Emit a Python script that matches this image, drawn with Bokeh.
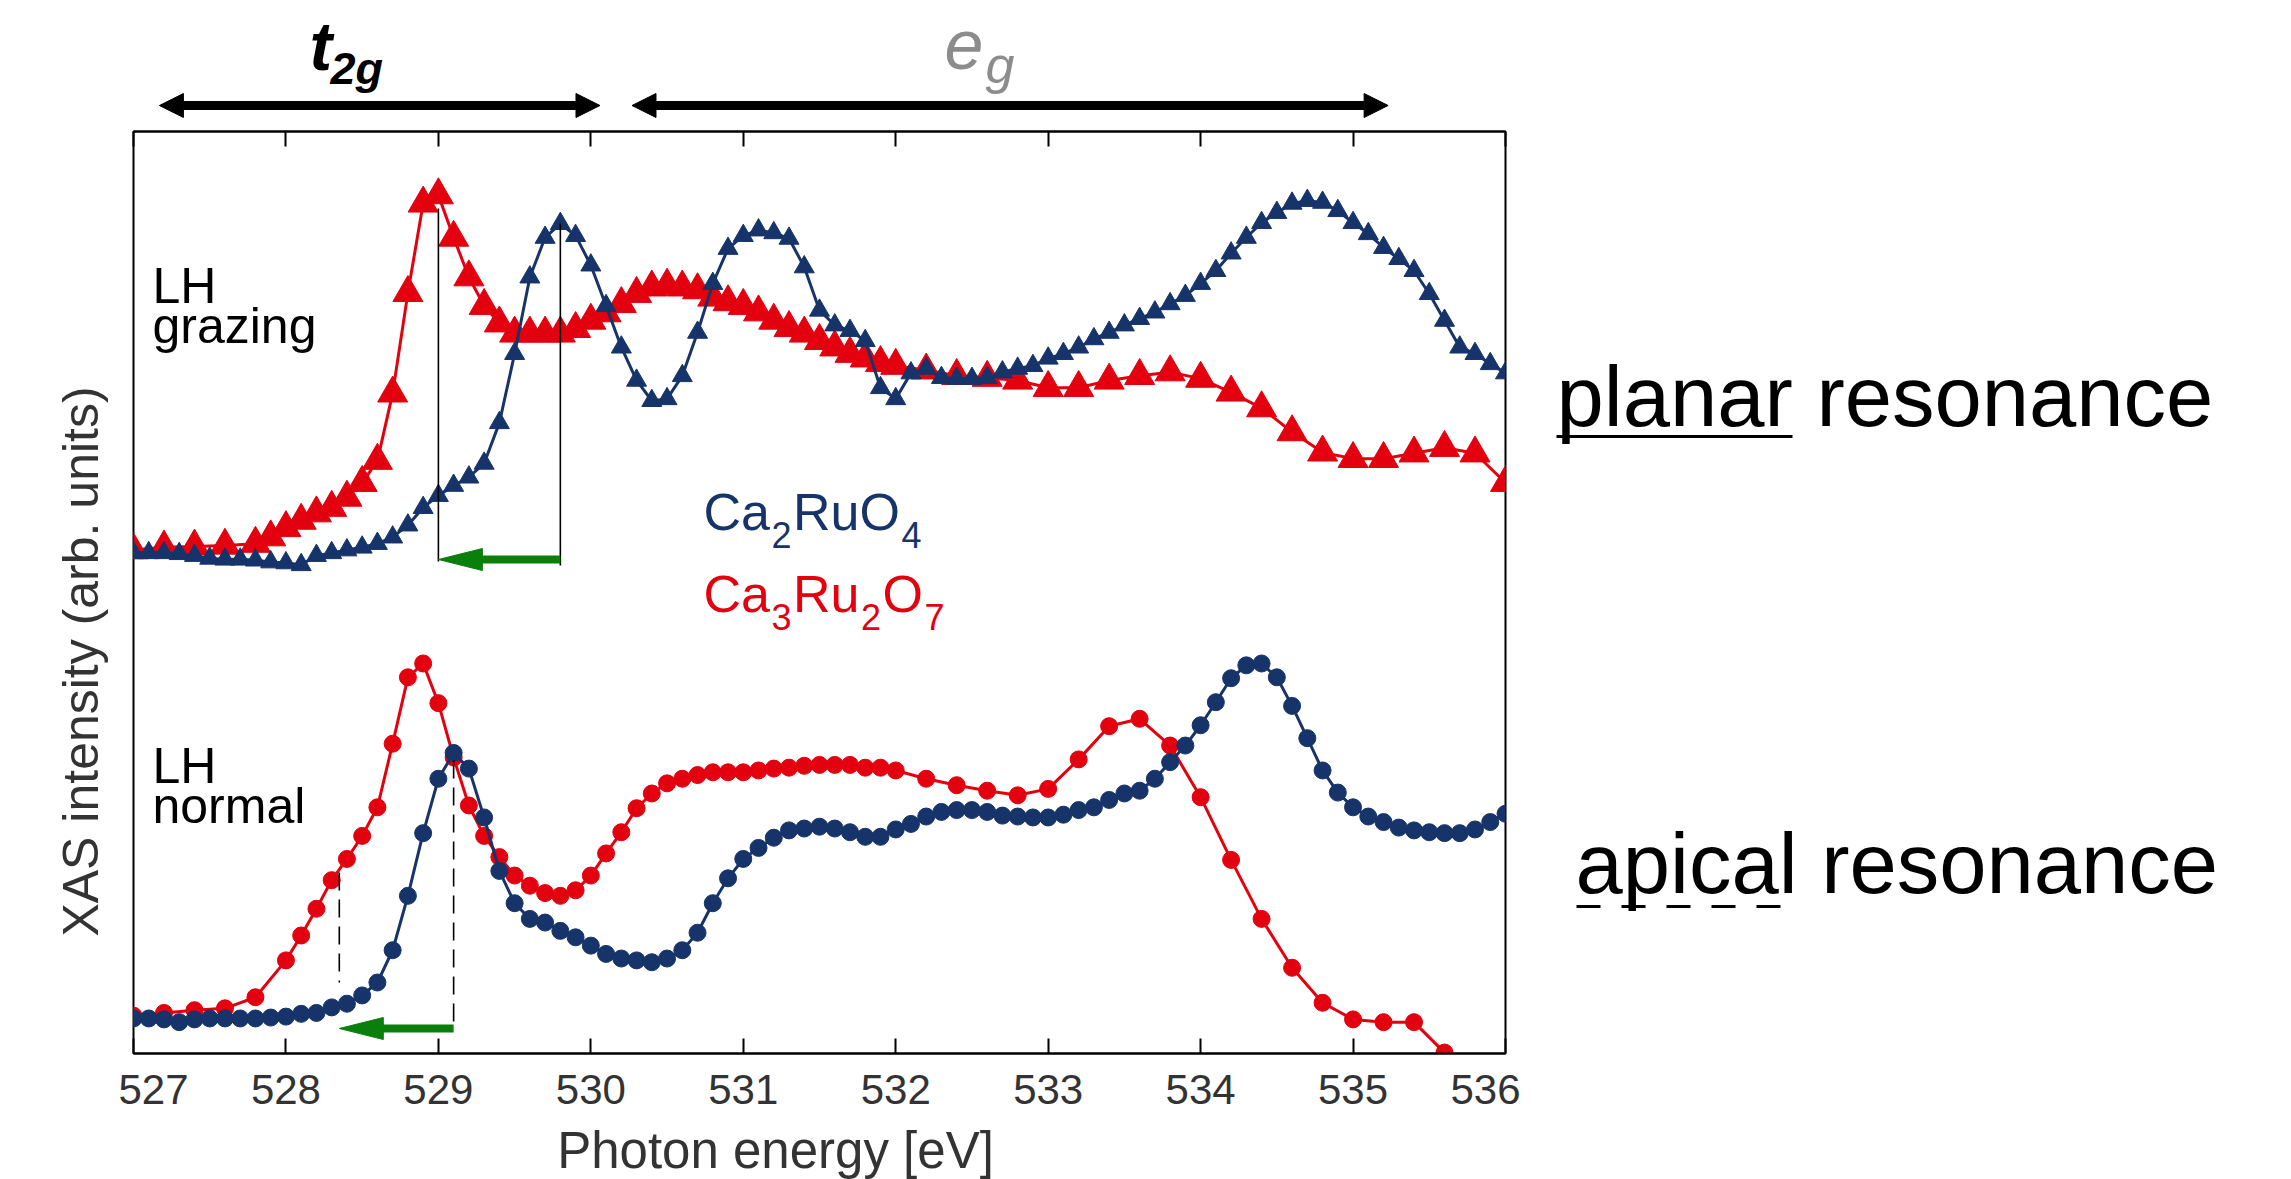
from math import pi
from bokeh.plotting import figure
from bokeh.models import (Range1d, LinearAxis, FixedTicker, Arrow, NormalHead,
                          CustomJSTickFormatter)
from bokeh.layouts import gridplot
from bokeh.embed import file_html
from bokeh.resources import INLINE
from bokeh.core.properties import value

# ---------------- data ----------------
tick_values = [527, 528, 529, 530, 531, 532, 533, 534, 535, 536]
tick_labels = ["527", "528", "529", "530", "531", "532", "533", "534", "535", "536"]

energy_blue = [527.0, 527.1, 527.2, 527.3, 527.4, 527.5, 527.6, 527.7, 527.8, 527.9,
               528.0, 528.1, 528.2, 528.3, 528.4, 528.5, 528.6, 528.7, 528.8, 528.9,
               529.0, 529.1, 529.2, 529.3, 529.4, 529.5, 529.6, 529.7, 529.8, 529.9,
               530.0, 530.1, 530.2, 530.3, 530.4, 530.5, 530.6, 530.7, 530.8, 530.9,
               531.0, 531.1, 531.2, 531.3, 531.4, 531.5, 531.6, 531.7, 531.8, 531.9,
               532.0, 532.1, 532.2, 532.3, 532.4, 532.5, 532.6, 532.7, 532.8, 532.9,
               533.0, 533.1, 533.2, 533.3, 533.4, 533.5, 533.6, 533.7, 533.8, 533.9,
               534.0, 534.1, 534.2, 534.3, 534.4, 534.5, 534.6, 534.7, 534.8, 534.9,
               535.0, 535.1, 535.2, 535.3, 535.4, 535.5, 535.6, 535.7, 535.8, 535.9,
               536.0]

# Ca2RuO4, LH grazing (triangles)
blue_grazing = [5.43, 5.43, 5.43, 5.42, 5.40, 5.37, 5.36, 5.36, 5.35, 5.33,
                5.32, 5.30, 5.40, 5.43, 5.46, 5.49, 5.53, 5.60, 5.73, 5.92,
                6.05, 6.16, 6.25, 6.40, 6.84, 7.59, 8.42, 8.85, 9.00, 8.87,
                8.55, 8.11, 7.66, 7.30, 7.08, 7.10, 7.35, 7.82, 8.35, 8.73,
                8.87, 8.93, 8.90, 8.84, 8.53, 8.06, 7.90, 7.84, 7.73, 7.22,
                7.10, 7.38, 7.43, 7.33, 7.32, 7.32, 7.33, 7.39, 7.43, 7.46,
                7.54, 7.59, 7.66, 7.75, 7.82, 7.90, 7.97, 8.04, 8.13, 8.22,
                8.35, 8.49, 8.68, 8.85, 9.01, 9.12, 9.22, 9.25, 9.23, 9.14,
                9.01, 8.89, 8.74, 8.62, 8.49, 8.24, 7.95, 7.66, 7.59, 7.48,
                7.38]

# Ca2RuO4, LH normal (circles)
blue_normal = [0.38, 0.38, 0.37, 0.34, 0.37, 0.38, 0.38, 0.38, 0.38, 0.39,
               0.40, 0.43, 0.44, 0.50, 0.54, 0.63, 0.77, 1.12, 1.71, 2.39,
               2.98, 3.26, 3.09, 2.56, 1.98, 1.63, 1.46, 1.42, 1.33, 1.26,
               1.17, 1.08, 1.03, 1.01, 0.99, 1.03, 1.12, 1.31, 1.63, 1.90,
               2.11, 2.23, 2.34, 2.42, 2.44, 2.46, 2.44, 2.40, 2.35, 2.35,
               2.43, 2.49, 2.57, 2.62, 2.64, 2.64, 2.62, 2.58, 2.57, 2.56,
               2.56, 2.59, 2.64, 2.67, 2.75, 2.82, 2.85, 2.98, 3.16, 3.34,
               3.56, 3.81, 4.07, 4.21, 4.23, 4.08, 3.77, 3.42, 3.07, 2.83,
               2.67, 2.57, 2.51, 2.45, 2.42, 2.40, 2.39, 2.39, 2.43, 2.51,
               2.60]

# Ca3Ru2O7, LH grazing (triangles)
energy_red_grazing = [527.0, 527.2, 527.4, 527.6, 527.8, 527.9,
                      528.0, 528.1, 528.2, 528.3, 528.4, 528.5, 528.6, 528.7, 528.8, 528.9,
                      529.0, 529.1, 529.2, 529.3, 529.4, 529.5, 529.6, 529.7, 529.8, 529.9,
                      530.0, 530.1, 530.2, 530.3, 530.4, 530.5, 530.6, 530.7, 530.8, 530.9,
                      531.0, 531.1, 531.2, 531.3, 531.4, 531.5, 531.6, 531.7, 531.8, 531.9,
                      532.0, 532.2, 532.4, 532.6, 532.8, 533.0, 533.2, 533.4, 533.6, 533.8,
                      534.0, 534.2, 534.4, 534.6, 534.8, 535.0, 535.2, 535.4, 535.6, 535.8,
                      536.0]
red_grazing = [5.46, 5.49, 5.50, 5.51, 5.53, 5.60,
               5.70, 5.78, 5.86, 5.92, 6.03, 6.19, 6.43, 7.16, 8.25, 9.22,
               9.31, 8.85, 8.42, 8.11, 7.92, 7.81, 7.81, 7.81, 7.81, 7.86,
               7.95, 8.03, 8.13, 8.24, 8.31, 8.33, 8.31, 8.28, 8.20, 8.15,
               8.11, 8.04, 7.95, 7.87, 7.81, 7.73, 7.66, 7.59, 7.54, 7.49,
               7.46, 7.41, 7.35, 7.33, 7.30, 7.22, 7.22, 7.30, 7.35, 7.39,
               7.32, 7.17, 7.00, 6.74, 6.52, 6.45, 6.45, 6.51, 6.57, 6.51,
               6.19]

# Ca3Ru2O7, LH normal (circles)
energy_red_normal = [527.0, 527.2, 527.4, 527.6, 527.8,
                     528.0, 528.1, 528.2, 528.3, 528.4, 528.5, 528.6, 528.7, 528.8, 528.9,
                     529.0, 529.1, 529.2, 529.3, 529.4, 529.5, 529.6, 529.7, 529.8, 529.9,
                     530.0, 530.1, 530.2, 530.3, 530.4, 530.5, 530.6, 530.7, 530.8, 530.9,
                     531.0, 531.1, 531.2, 531.3, 531.4, 531.5, 531.6, 531.7, 531.8, 531.9,
                     532.0, 532.2, 532.4, 532.6, 532.8, 533.0, 533.2, 533.4, 533.6, 533.8,
                     534.0, 534.2, 534.4, 534.6, 534.8, 535.0, 535.2, 535.4, 535.6]
red_normal = [0.41, 0.44, 0.47, 0.49, 0.61,
              1.01, 1.28, 1.57, 1.88, 2.11, 2.36, 2.67, 3.36, 4.08, 4.23,
              3.80, 3.21, 2.69, 2.36, 2.13, 1.93, 1.82, 1.74, 1.71, 1.77,
              1.93, 2.17, 2.40, 2.66, 2.82, 2.93, 2.98, 3.02, 3.05, 3.05,
              3.05, 3.07, 3.09, 3.10, 3.12, 3.13, 3.13, 3.13, 3.10, 3.10,
              3.07, 2.98, 2.91, 2.85, 2.80, 2.87, 3.19, 3.55, 3.63, 3.34,
              2.78, 2.10, 1.46, 0.93, 0.55, 0.37, 0.34, 0.34, 0.01]

# edge shifts marked with green arrows: (Ca2RuO4 peak, Ca3Ru2O7 edge)
grazing_shift = (529.8, 529.0)
normal_shift = (529.1, 528.35)
# energy bands marked above the plot
t2g_band = (527.17, 530.06)
eg_band = (530.27, 535.23)

# ---------------- style / layout ----------------
BLUE = "#17346a"
RED = "#e3000f"
GREEN = "#0b7f0b"
GREY_TXT = "#333333"
SANS = "Liberation Sans"
BL = 0.36   # baseline correction (em) for text glyphs

X0, X1, Y0, Y1 = 527, 536, 0, 10
FRAME_L, FRAME_R, FRAME_T, FRAME_B = 133, 1505, 131, 1053   # page pixels

LEFT_W = 118                       # y-title strip
MAIN_W = 1402                      # main plot (frame 133..1505)
RIGHT_W = 770                      # resonance labels
TOP_H = 127
BORDER_TOP, BORDER_BOTTOM = 4, 70
MAIN_H = BORDER_TOP + (FRAME_B - FRAME_T) + BORDER_BOTTOM     # 996
BOT_H = 1179 - TOP_H - MAIN_H                                  # 56
BORDER_L = FRAME_L - LEFT_W        # 15
BORDER_R = LEFT_W + MAIN_W - FRAME_R   # 15


def px_x(px):  # page pixel -> energy (annotation placement)
    return X0 + (px - FRAME_L) * (X1 - X0) / (FRAME_R - FRAME_L)


def px_y(py):
    return Y0 + (FRAME_B - py) * (Y1 - Y0) / (FRAME_B - FRAME_T)


EV_PER_PX = (X1 - X0) / (FRAME_R - FRAME_L)
Y_PER_PX = (Y1 - Y0) / (FRAME_B - FRAME_T)


def put_text(fig, xs, ys, texts, size, color="black", style="normal",
             x_offset=0, y_offset=0, align="left", angle=0.0):
    if angle:
        x_offset -= BL * size
    else:
        y_offset -= BL * size
    fig.text(x=xs, y=ys, text=texts, x_offset=x_offset, y_offset=y_offset, angle=angle,
             text_font=value(SANS), text_font_style=style, text_font_size=f"{size}px",
             text_color=color, text_baseline="alphabetic", text_align=align)


def blank(width, height, x_range, y_range, **borders):
    f = figure(width=width, height=height, x_range=x_range, y_range=y_range,
               output_backend="svg", toolbar_location=None, x_axis_location=None,
               y_axis_location=None, **borders)
    f.outline_line_color = None
    f.grid.visible = False
    return f


# ---------------- main plot ----------------
p = figure(width=MAIN_W, height=MAIN_H, x_range=Range1d(X0, X1), y_range=Range1d(Y0, Y1),
           output_backend="svg", toolbar_location=None, y_axis_location=None,
           min_border_left=BORDER_L, min_border_right=BORDER_R,
           min_border_top=BORDER_TOP, min_border_bottom=BORDER_BOTTOM)
p.outline_line_color = "black"
p.outline_line_width = 2
p.grid.visible = False

xa = p.xaxis[0]
xa.ticker = FixedTicker(ticks=tick_values)
xa.major_label_overrides = {v: s for v, s in zip(tick_values, tick_labels)}
xa.major_tick_in = 15
xa.major_tick_out = 0
xa.minor_tick_line_color = None
xa.major_tick_line_width = 2
xa.axis_line_width = 2
xa.major_label_standoff = 21
xa.major_label_text_font = SANS
xa.major_label_text_font_size = "42px"
xa.major_label_text_color = GREY_TXT

top_axis = LinearAxis(ticker=FixedTicker(ticks=tick_values),
                      formatter=CustomJSTickFormatter(code="return ''"),
                      major_tick_in=15, major_tick_out=0, minor_tick_line_color=None,
                      major_tick_line_width=2, axis_line_width=2,
                      major_label_standoff=0, major_label_text_font_size="0px")
p.add_layout(top_axis, "above")

# curves: Ca3Ru2O7 first, Ca2RuO4 on top
p.line(energy_red_grazing, red_grazing, line_color=RED, line_width=3)
p.scatter(energy_red_grazing, red_grazing, marker="triangle", size=30,
          fill_color=RED, line_color=RED)
p.line(energy_blue, blue_grazing, line_color=BLUE, line_width=3)
p.scatter(energy_blue, blue_grazing, marker="triangle", size=20,
          fill_color=BLUE, line_color=BLUE)

p.line(energy_red_normal, red_normal, line_color=RED, line_width=3)
p.scatter(energy_red_normal, red_normal, marker="circle", size=17,
          fill_color=RED, line_color=RED)
p.line(energy_blue, blue_normal, line_color=BLUE, line_width=3)
p.scatter(energy_blue, blue_normal, marker="circle", size=17,
          fill_color=BLUE, line_color=BLUE)

# guide lines and green shift arrows
g_arrow_y = px_y(559)
n_arrow_y = px_y(1028)
p.segment(x0=[grazing_shift[1], grazing_shift[0]], y0=[px_y(208), px_y(223)],
          x1=[grazing_shift[1], grazing_shift[0]], y1=[px_y(561), px_y(565)],
          line_color="black", line_width=1.6)
p.segment(x0=[normal_shift[0], normal_shift[1]], y0=[px_y(760), px_y(872)],
          x1=[normal_shift[0], normal_shift[1]], y1=[n_arrow_y, px_y(982)],
          line_color="black", line_width=1.6, line_dash="18 9")

HEAD_LEN = 44 * EV_PER_PX
HEAD_HW = 11 * Y_PER_PX
for (tail, tip), ay in ((grazing_shift, g_arrow_y), (normal_shift, n_arrow_y)):
    p.segment(x0=[tail], y0=[ay], x1=[tip + HEAD_LEN * 0.9], y1=[ay],
              line_color=GREEN, line_width=8)
    p.patch([tip, tip + HEAD_LEN, tip + HEAD_LEN], [ay, ay + HEAD_HW, ay - HEAD_HW],
            fill_color=GREEN, line_color=GREEN, line_width=1)

# in-plot texts
put_text(p, [px_x(152)] * 4, [px_y(303), px_y(343), px_y(783), px_y(823)],
         ["LH", "grazing", "LH", "normal"], 50)

AW = {"C": 0.722, "a": 0.556, "R": 0.722, "u": 0.556, "O": 0.778,
      "2": 0.556, "3": 0.556, "4": 0.556, "7": 0.556}


def formula(parts, x, y, color):
    off = 0.0
    for txt, sub in parts:
        fs = 36 if sub else 52
        put_text(p, [x], [y], [txt], fs, color=color, x_offset=off,
                 y_offset=17 if sub else 0)
        off += sum(AW[c] for c in txt) * fs + 1.5


formula([("Ca", 0), ("2", 1), ("RuO", 0), ("4", 1)], px_x(703), px_y(530), BLUE)
formula([("Ca", 0), ("3", 1), ("Ru", 0), ("2", 1), ("O", 0), ("7", 1)], px_x(703), px_y(612), RED)

# ---------------- left strip: y-axis title ----------------
left = blank(LEFT_W, MAIN_H, Range1d(0, LEFT_W), Range1d(FRAME_B, FRAME_T),
             min_border_left=0, min_border_right=0,
             min_border_top=BORDER_TOP, min_border_bottom=BORDER_BOTTOM)
put_text(left, [98], [661], ["XAS intensity (arb. units)"], 50, color=GREY_TXT,
         align="center", angle=pi / 2)

# ---------------- top strip: t2g / eg bands ----------------
top = blank(MAIN_W, TOP_H, p.x_range, Range1d(TOP_H, 0),
            min_border_left=BORDER_L, min_border_right=BORDER_R,
            min_border_top=0, min_border_bottom=0)
for a, b in (t2g_band, eg_band):
    top.add_layout(Arrow(x_start=a, y_start=105, x_end=b, y_end=105, line_width=9,
                         line_color="black",
                         start=NormalHead(size=24, fill_color="black", line_color="black"),
                         end=NormalHead(size=24, fill_color="black", line_color="black")))
put_text(top, [px_x(309)], [70], ["t"], 68, style="bold italic")
put_text(top, [px_x(330)], [84], ["2g"], 45, style="bold italic")
put_text(top, [px_x(944)], [69], ["e"], 70, color="#8c8c8c", style="italic")
put_text(top, [px_x(985)], [83], ["g"], 52, color="#8c8c8c", style="italic")

# ---------------- bottom strip: x-axis title ----------------
bottom = blank(MAIN_W, BOT_H, p.x_range, Range1d(1179, 1179 - BOT_H),
               min_border_left=BORDER_L, min_border_right=BORDER_R,
               min_border_top=0, min_border_bottom=0)
put_text(bottom, [px_x(775)], [1168], ["Photon energy [eV]"], 51, color=GREY_TXT,
         align="center")

# ---------------- right strip: resonance labels ----------------
X_R0 = LEFT_W + MAIN_W
right = blank(RIGHT_W, MAIN_H, Range1d(X_R0, X_R0 + RIGHT_W), Range1d(FRAME_B, FRAME_T),
              min_border_left=0, min_border_right=0,
              min_border_top=BORDER_TOP, min_border_bottom=BORDER_BOTTOM)
put_text(right, [1556, 1575], [427, 894], ["planar resonance", "apical resonance"], 85)
right.segment(x0=[1556], y0=[436], x1=[1792], y1=[436], line_color="black", line_width=3)
right.segment(x0=[1576], y0=[906], x1=[1786], y1=[906], line_color="black", line_width=3,
              line_dash="24 21")

grid = gridplot([[None, top, None], [left, p, right], [None, bottom, None]],
                toolbar_location=None)
open("out.html", "w").write(file_html(grid, INLINE))
